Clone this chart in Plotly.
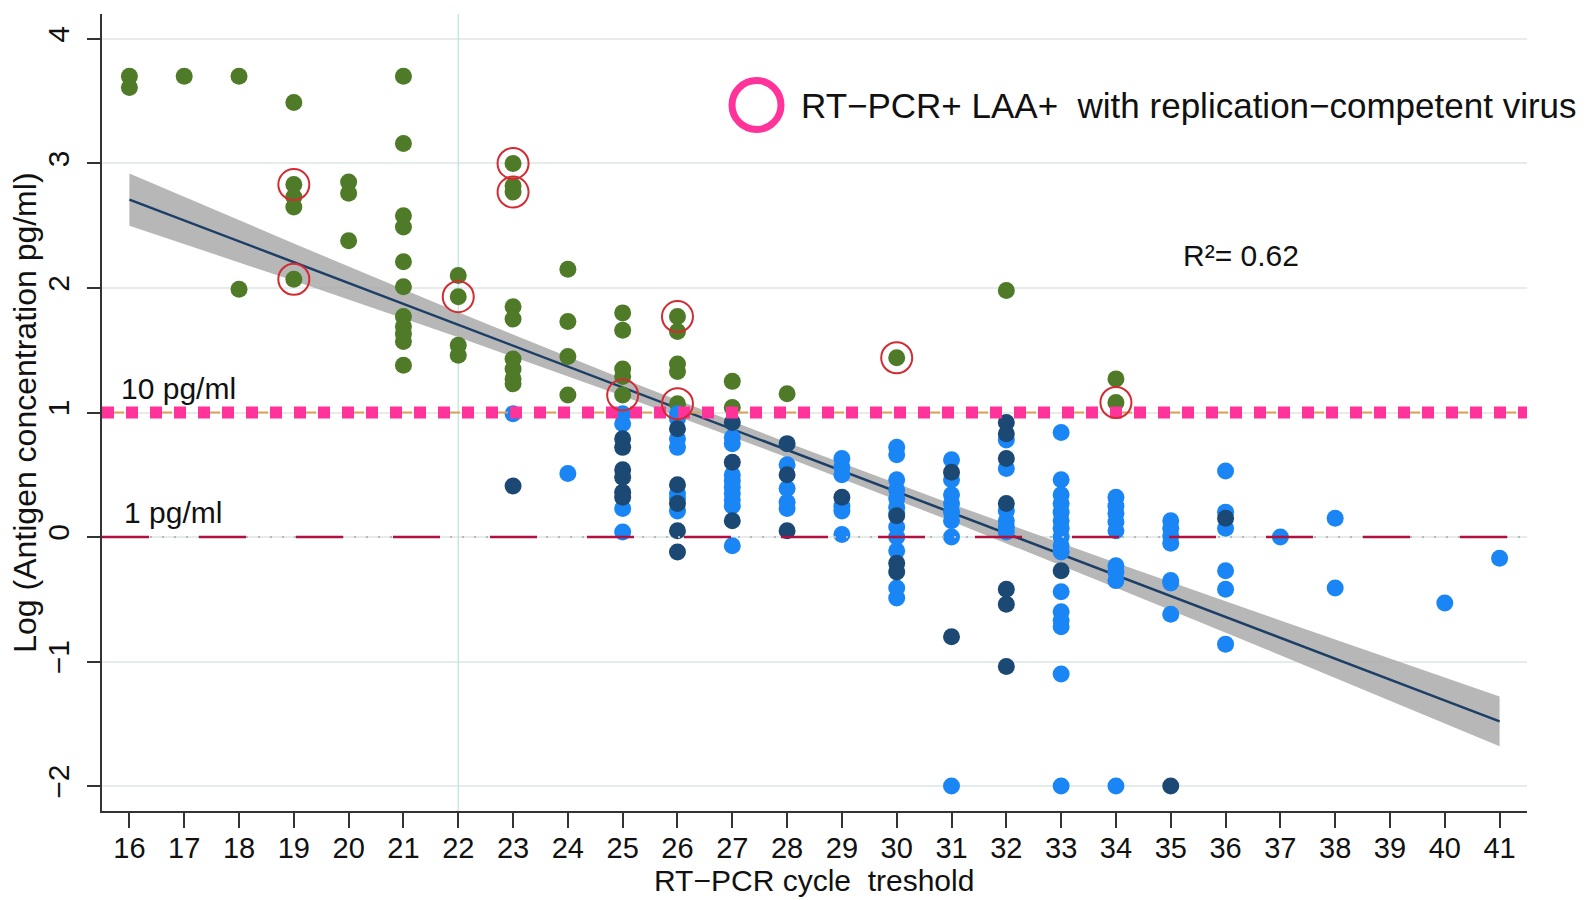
import numpy as np
import plotly.graph_objects as go

# ---------------- data ----------------
green = {
    16: [3.70, 3.61],
    17: [3.70],
    18: [3.70, 1.99],
    19: [3.49, 2.83, 2.73, 2.65, 2.07],
    20: [2.85, 2.76, 2.38],
    21: [3.70, 3.16, 2.58, 2.49, 2.21, 2.01, 1.77, 1.69, 1.63, 1.57, 1.38],
    22: [2.10, 1.93, 1.54, 1.46],
    23: [3.00, 2.82, 2.77, 1.85, 1.75, 1.43, 1.35, 1.27, 1.23],
    24: [2.15, 1.73, 1.45, 1.14],
    25: [1.80, 1.66, 1.35, 1.29, 1.14],
    26: [1.77, 1.65, 1.39, 1.33, 1.07],
    27: [1.25, 1.04],
    28: [1.15],
    30: [1.44],
    32: [1.98],
    34: [1.27, 1.08],
}
light_blue = {
    23: [0.99],
    24: [0.51],
    25: [0.99, 0.91, 0.23, 0.04],
    26: [0.99, 0.95, 0.79, 0.72, 0.35, 0.31, 0.21],
    27: [0.80, 0.75, 0.50, 0.45, 0.40, 0.35, 0.30, 0.25, -0.07],
    28: [0.58, 0.39, 0.28, 0.23],
    29: [0.63, 0.56, 0.50, 0.25, 0.21, 0.02],
    30: [0.72, 0.66, 0.46, 0.38, 0.31, 0.24, 0.19, 0.08, 0.00, -0.11, -0.41, -0.49],
    31: [0.62, 0.46, 0.34, 0.27, 0.20, 0.13, 0.00, -2.0],
    32: [0.78, 0.55, 0.21, 0.13, 0.08, 0.04],
    33: [0.84, 0.46, 0.34, 0.27, 0.20, 0.13, 0.07, 0.00, -0.07, -0.12,
         -0.44, -0.60, -0.67, -0.72, -1.10, -2.0],
    34: [0.32, 0.25, 0.19, 0.12, 0.05, -0.23, -0.28, -0.35, -2.0],
    35: [0.13, 0.07, 0.01, -0.05, -0.35, -0.37, -0.62],
    36: [0.53, 0.20, 0.07, -0.27, -0.42, -0.86],
    37: [0.00],
    38: [0.15, -0.41],
    40: [-0.53],
    41: [-0.17],
}
navy = {
    23: [0.41],
    25: [0.79, 0.72, 0.54, 0.48, 0.36, 0.32],
    26: [0.87, 0.42, 0.27, 0.05, -0.12],
    27: [0.92, 0.60, 0.13],
    28: [0.75, 0.50, 0.05],
    29: [0.32],
    30: [0.17, -0.21, -0.28],
    31: [0.52, -0.80],
    32: [0.92, 0.83, 0.63, 0.27, -0.42, -0.54, -1.04],
    33: [-0.27],
    35: [-2.0],
    36: [0.15],
}
# RT-PCR+ LAA+ samples with replication-competent virus
circled_x = [19, 19, 22, 23, 23, 25, 26, 26, 30, 34]
circled_y = [2.83, 2.07, 1.93, 3.00, 2.77, 1.14, 1.77, 1.07, 1.44, 1.08]

# linear fit and its confidence band
fit_x = [16, 41]
fit_y = [2.71, -1.48]
band_x = [16, 19, 22, 25, 28, 31, 34, 37, 41]
band_hw = [0.21, 0.15, 0.10, 0.07, 0.06, 0.07, 0.10, 0.14, 0.20]

x_ticks = list(range(16, 42))
y_ticks = [-2, -1, 0, 1, 2, 3, 4]
y_ticktext = ["\u22122", "\u22121", "0", "1", "2", "3", "4"]
r2_text = "R\u00b2= 0.62"
legend_text = "RT\u2212PCR+ LAA+\u00a0 with replication\u2212competent virus"
x_title = "RT\u2212PCR cycle\u00a0 treshold"
y_title = "Log (Antigen concentration pg/ml)"

X_RANGE = [15.5, 41.5]
Y_RANGE = [-2.2, 4.2]
FONT = "Liberation Sans, Arial, sans-serif"


def flat(d):
    xs, ys = [], []
    for k, vals in d.items():
        for v in vals:
            xs.append(k)
            ys.append(v)
    return xs, ys


fig = go.Figure()

# vertical reference at Ct 22
fig.add_trace(go.Scatter(x=[22, 22], y=Y_RANGE, mode="lines",
                         line=dict(color="#b9e3de", width=1.2),
                         hoverinfo="skip", showlegend=False))

# confidence band
bx = np.array(band_x, dtype=float)
bc = np.interp(bx, fit_x, fit_y)
bh = np.array(band_hw)
fig.add_trace(go.Scatter(x=np.concatenate([bx, bx[::-1]]),
                         y=np.concatenate([bc + bh, (bc - bh)[::-1]]),
                         fill="toself", fillcolor="rgba(170,170,170,0.85)",
                         line=dict(width=0), mode="lines",
                         hoverinfo="skip", showlegend=False))
fig.add_trace(go.Scatter(x=fit_x, y=fit_y, mode="lines",
                         line=dict(color="#1d3f66", width=2.5),
                         showlegend=False))

# points
gx, gy = flat(green)
lx, ly = flat(light_blue)
nx, ny = flat(navy)
fig.add_trace(go.Scatter(x=gx, y=gy, mode="markers",
                         marker=dict(color="#4f7a28", size=17, line=dict(width=0)),
                         showlegend=False))
fig.add_trace(go.Scatter(x=lx, y=ly, mode="markers",
                         marker=dict(color="#1a86f5", size=17, line=dict(width=0)),
                         showlegend=False))
fig.add_trace(go.Scatter(x=nx, y=ny, mode="markers",
                         marker=dict(color="#1c4874", size=17, line=dict(width=0)),
                         showlegend=False))

# 1 pg/ml line (y = 0)
fig.add_trace(go.Scatter(x=X_RANGE, y=[0, 0], mode="lines",
                         line=dict(color="#b8b8b8", width=2, dash="2px,10px"),
                         hoverinfo="skip", showlegend=False))
fig.add_trace(go.Scatter(x=X_RANGE, y=[0, 0], mode="lines",
                         line=dict(color="#b0123f", width=2.5, dash="47px,50px"),
                         hoverinfo="skip", showlegend=False))

# 10 pg/ml line (y = 1)
fig.add_trace(go.Scatter(x=X_RANGE, y=[1, 1], mode="lines",
                         line=dict(color="#d9a25a", width=2, dash="22px,26px"),
                         hoverinfo="skip", showlegend=False))
fig.add_trace(go.Scatter(x=X_RANGE, y=[1, 1], mode="lines",
                         line=dict(color="#ff3399", width=12, dash="12px,12px"),
                         hoverinfo="skip", showlegend=False))

# circles for replication-competent virus
fig.add_trace(go.Scatter(x=circled_x, y=circled_y, mode="markers",
                         marker=dict(symbol="circle-open", size=31,
                                     color="#d42a32", line=dict(width=2)),
                         showlegend=False))

annotations = [
    dict(text="10 pg/ml", xref="paper", yref="y", x=0.012, y=1.19,
         xanchor="left", yanchor="middle", showarrow=False,
         font=dict(size=30, color="#111")),
    dict(text="1 pg/ml", xref="paper", yref="y", x=0.014, y=0.20,
         xanchor="left", yanchor="middle", showarrow=False,
         font=dict(size=30, color="#111")),
    dict(text=r2_text, xref="paper", yref="paper", x=0.7993, y=0.6967,
         xanchor="center", yanchor="middle", showarrow=False,
         font=dict(size=30, color="#111")),
    dict(text=legend_text, xref="paper", yref="paper", x=0.4892, y=0.8858,
         xanchor="left", yanchor="middle", showarrow=False,
         font=dict(size=35, color="#111")),
    dict(text=x_title, xref="paper", yref="paper", x=0.4998, y=-0.087,
         xanchor="center", yanchor="middle", showarrow=False,
         font=dict(size=30, color="#111")),
    dict(text=y_title, xref="paper", yref="paper", x=-0.0537, y=0.5003,
         xanchor="center", yanchor="middle", showarrow=False, textangle=-90,
         font=dict(size=32, color="#111")),
]

shapes = [
    dict(type="circle", xref="paper", yref="paper",
         xsizemode="pixel", ysizemode="pixel",
         xanchor=0.4593, yanchor=0.8858,
         x0=-24.5, x1=24.5, y0=-24.5, y1=24.5,
         line=dict(color="#ff3399", width=7)),
]

fig.update_layout(
    width=1596, height=900,
    margin=dict(l=102, r=69, t=14, b=89),
    paper_bgcolor="white", plot_bgcolor="white",
    font=dict(family=FONT, color="#111"),
    showlegend=False,
    annotations=annotations,
    shapes=shapes,
    xaxis=dict(range=X_RANGE, tickmode="array", tickvals=x_ticks,
               ticks="outside", ticklen=15, tickwidth=2, tickcolor="#333",
               showline=True, linecolor="#333", linewidth=2,
               showgrid=False, zeroline=False, ticklabelstandoff=-5,
               tickfont=dict(size=29, family=FONT, color="#111")),
    yaxis=dict(range=Y_RANGE, tickmode="array", tickvals=y_ticks,
               ticktext=y_ticktext, tickangle=-90,
               ticks="outside", ticklen=13, tickwidth=2, tickcolor="#333",
               showline=True, linecolor="#333", linewidth=2,
               showgrid=True, gridcolor="#e6ebeb", gridwidth=2,
               zeroline=False, ticklabelstandoff=6,
               tickfont=dict(size=30, family=FONT, color="#111")),
)

fig.write_html("out.html")
